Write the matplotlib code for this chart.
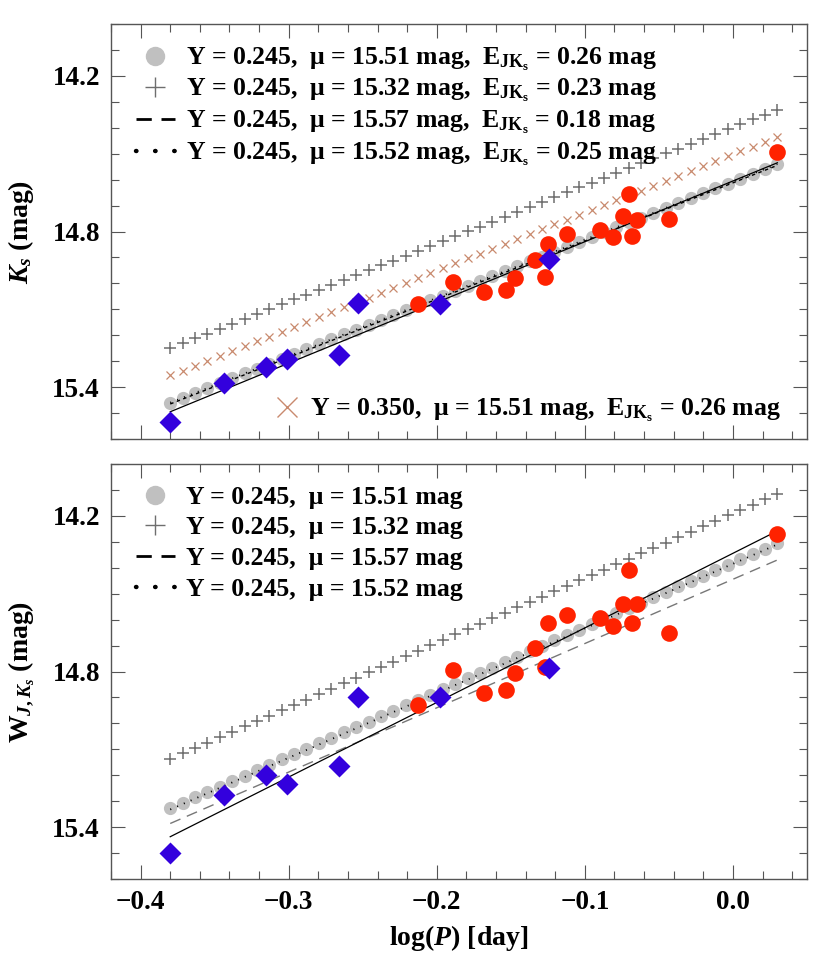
import matplotlib
matplotlib.use("Agg")
import matplotlib.pyplot as plt
from matplotlib.lines import Line2D
from matplotlib.ticker import MultipleLocator

plt.rcParams['font.family'] = ['Liberation Serif', 'DejaVu Serif']
plt.rcParams['font.weight'] = 'bold'
plt.rcParams['axes.labelweight'] = 'bold'
plt.rcParams['mathtext.fontset'] = 'custom'
plt.rcParams['mathtext.rm'] = 'Liberation Serif:bold'
plt.rcParams['mathtext.bf'] = 'Liberation Serif:bold'
plt.rcParams['mathtext.it'] = 'Liberation Serif:italic:bold'

# ---------------- data ----------------
# model period grid (log P)
model_logp = [-0.3800, -0.3716, -0.3633, -0.3549, -0.3465, -0.3382, -0.3298, -0.3214, -0.3131, -0.3047,
              -0.2963, -0.2880, -0.2796, -0.2712, -0.2629, -0.2545, -0.2461, -0.2378, -0.2294, -0.2210,
              -0.2127, -0.2043, -0.1959, -0.1876, -0.1792, -0.1708, -0.1624, -0.1541, -0.1457, -0.1373,
              -0.1290, -0.1206, -0.1122, -0.1039, -0.0955, -0.0871, -0.0788, -0.0704, -0.0620, -0.0537,
              -0.0453, -0.0369, -0.0286, -0.0202, -0.0118, -0.0035, 0.0049, 0.0133, 0.0216, 0.0300]

# Ks models
ks_y245_mu1551 = [15.460, 15.441, 15.422, 15.404, 15.385, 15.366, 15.347, 15.329, 15.310, 15.291,
                  15.272, 15.253, 15.235, 15.216, 15.197, 15.178, 15.160, 15.141, 15.122, 15.103,
                  15.084, 15.066, 15.047, 15.028, 15.009, 14.991, 14.972, 14.953, 14.934, 14.915,
                  14.897, 14.878, 14.859, 14.840, 14.822, 14.803, 14.784, 14.765, 14.747, 14.728,
                  14.709, 14.690, 14.671, 14.653, 14.634, 14.615, 14.596, 14.578, 14.559, 14.540]
ks_y245_mu1532 = [15.250, 15.231, 15.212, 15.194, 15.175, 15.156, 15.137, 15.119, 15.100, 15.081,
                  15.062, 15.043, 15.025, 15.006, 14.987, 14.968, 14.950, 14.931, 14.912, 14.893,
                  14.874, 14.856, 14.837, 14.818, 14.799, 14.781, 14.762, 14.743, 14.724, 14.705,
                  14.687, 14.668, 14.649, 14.630, 14.612, 14.593, 14.574, 14.555, 14.537, 14.518,
                  14.499, 14.480, 14.461, 14.443, 14.424, 14.405, 14.386, 14.368, 14.349, 14.330]
ks_y350_mu1551 = [15.355, 15.336, 15.317, 15.299, 15.280, 15.261, 15.242, 15.224, 15.205, 15.186,
                  15.167, 15.148, 15.130, 15.111, 15.092, 15.073, 15.055, 15.036, 15.017, 14.998,
                  14.979, 14.961, 14.942, 14.923, 14.904, 14.886, 14.867, 14.848, 14.829, 14.810,
                  14.792, 14.773, 14.754, 14.735, 14.717, 14.698, 14.679, 14.660, 14.642, 14.623,
                  14.604, 14.585, 14.566, 14.548, 14.529, 14.510, 14.491, 14.473, 14.454, 14.435]
# W models
w_y245_mu1551 = [15.327, 15.306, 15.285, 15.264, 15.244, 15.223, 15.202, 15.181, 15.160, 15.139,
                 15.118, 15.098, 15.077, 15.056, 15.035, 15.014, 14.993, 14.972, 14.952, 14.931,
                 14.910, 14.889, 14.868, 14.847, 14.826, 14.806, 14.785, 14.764, 14.743, 14.722,
                 14.701, 14.680, 14.659, 14.639, 14.618, 14.597, 14.576, 14.555, 14.534, 14.514,
                 14.493, 14.472, 14.451, 14.430, 14.409, 14.388, 14.368, 14.347, 14.326, 14.305]
w_y245_mu1532 = [15.137, 15.116, 15.095, 15.074, 15.054, 15.033, 15.012, 14.991, 14.970, 14.949,
                 14.928, 14.908, 14.887, 14.866, 14.845, 14.824, 14.803, 14.782, 14.762, 14.741,
                 14.720, 14.699, 14.678, 14.657, 14.636, 14.616, 14.595, 14.574, 14.553, 14.532,
                 14.511, 14.490, 14.469, 14.449, 14.428, 14.407, 14.386, 14.365, 14.344, 14.324,
                 14.303, 14.282, 14.261, 14.240, 14.219, 14.198, 14.178, 14.157, 14.136, 14.115]

# straight-line relations (end points)
line_logp = [-0.38, 0.03]
ks_fit = [15.495, 14.535]
ks_y245_mu1557 = [15.465, 14.545]
ks_y245_mu1552 = [15.460, 14.540]
w_fit = [15.437, 14.258]
w_y245_mu1557 = [15.386, 14.370]
w_y245_mu1552 = [15.332, 14.310]

# observed stars
red_logp = [-0.213, -0.189, -0.168, -0.153, -0.147, -0.134, -0.125, -0.127, -0.112,
            -0.090, -0.081, -0.074, -0.070, -0.068, -0.065, -0.043, 0.030]
red_ks = [15.081, 14.994, 15.035, 15.027, 14.979, 14.910, 14.850, 14.975, 14.808,
          14.796, 14.820, 14.740, 14.655, 14.817, 14.755, 14.752, 14.494]
red_w = [14.930, 14.795, 14.881, 14.872, 14.804, 14.710, 14.612, 14.782, 14.582,
         14.595, 14.625, 14.541, 14.408, 14.612, 14.541, 14.650, 14.271]
blue_logp = [-0.380, -0.344, -0.315, -0.301, -0.266, -0.253, -0.198, -0.124]
blue_ks = [15.535, 15.385, 15.323, 15.293, 15.275, 15.075, 15.081, 14.907]
blue_w = [15.500, 15.276, 15.200, 15.232, 15.165, 14.900, 14.897, 14.788]

xticks = [-0.4, -0.3, -0.2, -0.1, 0.0]
xticklabels = ['\u22120.4', '\u22120.3', '\u22120.2', '\u22120.1', '0.0']
yticks = [14.2, 14.8, 15.4]
yticklabels = ['14.2', '14.8', '15.4']

lab_top = [r'Y = 0.245,  μ = 15.51 mag,  E$_{\mathrm{JK}_{\mathrm{s}}}$ = 0.26 mag',
           r'Y = 0.245,  μ = 15.32 mag,  E$_{\mathrm{JK}_{\mathrm{s}}}$ = 0.23 mag',
           r'Y = 0.245,  μ = 15.57 mag,  E$_{\mathrm{JK}_{\mathrm{s}}}$ = 0.18 mag',
           r'Y = 0.245,  μ = 15.52 mag,  E$_{\mathrm{JK}_{\mathrm{s}}}$ = 0.25 mag']
lab_y350 = r'Y = 0.350,  μ = 15.51 mag,  E$_{\mathrm{JK}_{\mathrm{s}}}$ = 0.26 mag'
lab_bot = ['Y = 0.245,  μ = 15.51 mag', 'Y = 0.245,  μ = 15.32 mag',
           'Y = 0.245,  μ = 15.57 mag', 'Y = 0.245,  μ = 15.52 mag']

# ---------------- styles ----------------
GREY = '#c0c0c0'
PLUS = '#6e6e6e'
XCOL = '#c98a6e'
RED = '#ff2200'
BLUE = '#3300dd'
FRAME = '#555555'

fig = plt.figure(figsize=(8.3, 9.77), dpi=100)
W, H = 830, 977
ax1 = fig.add_axes([111 / W, 1 - 439 / H, 696 / W, 415 / H])
ax2 = fig.add_axes([111 / W, 1 - 879 / H, 696 / W, 415 / H])


def style(ax, show_x):
    ax.set_xlim(-0.42, 0.05)
    ax.set_ylim(15.6, 14.0)
    ax.set_xticks(xticks)
    ax.xaxis.set_minor_locator(MultipleLocator(0.02))
    ax.set_yticks(yticks)
    ax.yaxis.set_minor_locator(MultipleLocator(0.1))
    ax.set_yticklabels(yticklabels)
    if show_x:
        ax.set_xticklabels(xticklabels)
    else:
        ax.set_xticklabels([])
    ax.tick_params(which='both', direction='in', top=True, right=True,
                   color=FRAME, width=0.8, labelsize=19.5, pad=8)
    ax.tick_params(which='major', length=10)
    ax.tick_params(which='minor', length=5.5)
    for s in ax.spines.values():
        s.set_color(FRAME)
        s.set_linewidth(1.0)


# ---------- top panel ----------
ax1.plot(model_logp, ks_y245_mu1551, 'o', color=GREY, ms=9.5, mec='none', zorder=2)
ax1.plot(line_logp, ks_y245_mu1557, color='k', lw=1.0, ls=(0, (2.5, 2.5)), zorder=3)
ax1.plot(line_logp, ks_y245_mu1552, color='k', lw=1.3, ls=(0, (0.6, 3.5)), zorder=3)
ax1.plot(line_logp, ks_fit, color='k', lw=0.9, zorder=3)
ax1.plot(model_logp, ks_y245_mu1532, '+', color=PLUS, ms=9, mew=1.1, zorder=3)
ax1.plot(model_logp, ks_y350_mu1551, 'x', color=XCOL, ms=6, mew=0.9, zorder=3)
ax1.plot(red_logp, red_ks, 'o', color=RED, ms=12, mec='none', zorder=4)
ax1.plot(blue_logp, blue_ks, 'D', color=BLUE, ms=11.5, mec='none', zorder=5)
style(ax1, False)
ax1.set_ylabel(r'$K_s$ (mag)', fontsize=20, labelpad=12)

h_grey = Line2D([], [], ls='none', marker='o', color=GREY, ms=14, mec='none')
h_plus = Line2D([], [], ls='none', marker='+', color=PLUS, ms=14, mew=1.0)
h_dash = Line2D([], [], color='k', lw=2.0, ls=(0, (5.5, 3.5)))
h_dot = Line2D([], [], color='k', lw=3.2, ls=(0, (0.1, 4.2)), dash_capstyle='round')
h_x = Line2D([], [], ls='none', marker='x', color=XCOL, ms=14, mew=1.0)

leg1 = ax1.legend([h_grey, h_plus, h_dash, h_dot], lab_top, loc='upper left',
                  bbox_to_anchor=(0.036, 0.948), frameon=False, fontsize=18.5,
                  handlelength=1.5, handletextpad=0.45, labelspacing=0.18,
                  borderaxespad=0.0, borderpad=0.0)
ax1.add_artist(leg1)
ax1.legend([h_x], [lab_y350], loc='lower right', bbox_to_anchor=(0.962, 0.037),
           frameon=False, fontsize=18.5, handlelength=0.9, handletextpad=0.45,
           borderaxespad=0.0, borderpad=0.0)

# ---------- bottom panel ----------
ax2.plot(model_logp, w_y245_mu1551, 'o', color=GREY, ms=9.5, mec='none', zorder=2)
ax2.plot(line_logp, w_y245_mu1557, color='#777777', lw=1.0, ls=(0, (8, 5)), zorder=3)
ax2.plot(line_logp, w_y245_mu1552, color='k', lw=1.3, ls=(0, (0.6, 3.5)), zorder=3)
ax2.plot(line_logp, w_fit, color='k', lw=0.9, zorder=3)
ax2.plot(model_logp, w_y245_mu1532, '+', color=PLUS, ms=9, mew=1.1, zorder=3)
ax2.plot(red_logp, red_w, 'o', color=RED, ms=12, mec='none', zorder=4)
ax2.plot(blue_logp, blue_w, 'D', color=BLUE, ms=11.5, mec='none', zorder=5)
style(ax2, True)
ax2.set_ylabel(r'W$_{\mathit{J,K_s}}$ (mag)', fontsize=20, labelpad=12)
ax2.set_xlabel(r'log($\mathit{P}$) [day]', fontsize=20, labelpad=6)

ax2.legend([h_grey, h_plus, h_dash, h_dot], lab_bot, loc='upper left',
           bbox_to_anchor=(0.036, 0.948), frameon=False, fontsize=18.5,
           handlelength=1.5, handletextpad=0.45, labelspacing=0.3,
           borderaxespad=0.0, borderpad=0.0)

fig.savefig('out.png', dpi=100)
